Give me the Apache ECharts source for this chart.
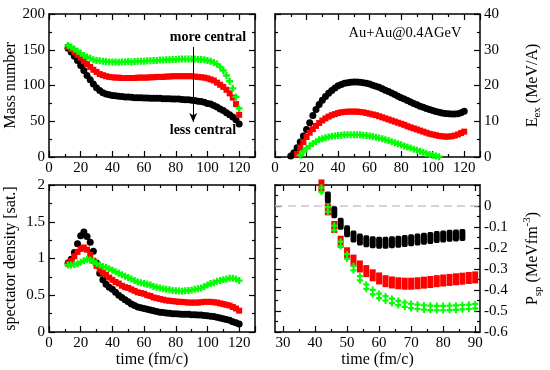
<!DOCTYPE html>
<html>
<head>
<meta charset="utf-8">
<script src="https://cdn.jsdelivr.net/npm/echarts@6/dist/echarts.min.js"></script>
<style>html,body{margin:0;padding:0;background:#fff}#c{width:550px;height:370px}</style>
</head>
<body>
<div id="c"></div>
<script>
// time grids (fm/c)
const t1 = [12,14,16,18,20,22,24,26,28,30,32,34,36,38,40,42,44,46,48,50,52,54,56,58,60,62,64,66,68,70,72,74,76,78,80,82,84,86,88,90,92,94,96,98,100,102,104,106,108,110,112,114,116,118,120];
const tExB = [10,12,14,16,18,20,22,24,26,28,30,32,34,36,38,40,42,44,46,48,50,52,54,56,58,60,62,64,66,68,70,72,74,76,78,80,82,84,86,88,90,92,94,96,98,100,102,104,106,108,110,112,114,116,118,120];
const tExR = [14,16,18,20,22,24,26,28,30,32,34,36,38,40,42,44,46,48,50,52,54,56,58,60,62,64,66,68,70,72,74,76,78,80,82,84,86,88,90,92,94,96,98,100,102,104,106,108,110,112,114,116,118,120];
const tExG = [16,18,20,22,24,26,28,30,32,34,36,38,40,42,44,46,48,50,52,54,56,58,60,62,64,66,68,70,72,74,76,78,80,82,84,86,88,90,92,94,96,98,100,102,104];
const tP = [42,44,46,48,50,52,54,56,58,60,62,64,66,68,70,72,74,76,78,80,82,84,86,88,90];
const tPB = [44,46,48,50,52,54,56,58,60,62,64,66,68,70,72,74,76,78,80,82,84,86];

// Mass number
const massBlack = [152,147,141,135,128,121,114,108,102,97,93,90,88,87,86,85.5,85,84.5,84,84,83.5,83,83,83,82.5,82.5,82,82,82,82,81.5,81.5,81.5,81,81,81,80.5,80,80,79.5,79,78,77.5,76.5,75,74,72,70,67,65,62,59,56,52,46];
const massRed = [154,151,147,143,139,134,130,126,122,119,116,114.5,113,112,111.5,111,111,110.5,110.5,110.5,110.5,110.5,111,111,111,111,111.5,111.5,112,112,112,112.5,112.5,113,113,113,113,113,113,113,112.5,112,111.5,111,110,108.5,107,104,101,98,94,89,83,74,59];
const massGreen = [156,154,151,148,145,142,140,138,136,135,134.5,134,133.5,133,133,133,132.5,133,133,133.5,133,133.5,134,134,134,134.5,134.5,135,135,135.5,135.5,136,136,136.5,136.5,137,137,137,137,137,137,136.5,136.5,136,135,134,132,130,126,121,114,106,96,84,68];

// Excitation energy (MeV/A)
const exBlack = [0.3,1.2,2.6,4.2,5.9,7.7,9.6,11.6,13.3,14.7,15.9,16.9,17.8,18.6,19.3,19.9,20.3,20.6,20.8,20.9,21,21,20.9,20.8,20.6,20.4,20.1,19.8,19.5,19.1,18.7,18.3,17.9,17.5,17,16.6,16.2,15.8,15.4,15,14.6,14.2,13.9,13.6,13.3,13,12.7,12.5,12.3,12.2,12.1,12,12,12.1,12.4,12.8];
const exRed = [0.8,2.6,4.2,5.6,6.8,7.8,8.7,9.5,10.2,10.8,11.3,11.7,12,12.3,12.5,12.6,12.7,12.7,12.7,12.7,12.6,12.5,12.3,12.1,11.9,11.7,11.4,11.1,10.8,10.5,10.2,9.9,9.6,9.3,9,8.6,8.3,8,7.7,7.4,7.1,6.8,6.5,6.3,6.1,5.9,5.8,5.7,5.7,5.8,6,6.3,6.7,7.1];
const exGreen = [0.5,1.5,2.4,3.1,3.8,4.3,4.8,5.1,5.4,5.6,5.8,5.9,6,6.1,6.2,6.2,6.2,6.2,6.2,6.2,6.1,6,5.9,5.7,5.5,5.3,5.1,4.8,4.6,4.3,4,3.7,3.4,3.1,2.8,2.5,2.2,1.9,1.6,1.3,1,0.7,0.5,0.3,0.1];

// Spectator density [sat.]
const densBlack = [0.94,0.99,1.08,1.2,1.31,1.36,1.3,1.22,1.1,0.94,0.8,0.71,0.65,0.61,0.58,0.54,0.5,0.47,0.44,0.41,0.38,0.36,0.34,0.33,0.32,0.31,0.3,0.29,0.28,0.27,0.265,0.26,0.255,0.25,0.25,0.245,0.24,0.24,0.24,0.235,0.235,0.23,0.23,0.225,0.22,0.215,0.21,0.2,0.19,0.18,0.17,0.16,0.14,0.125,0.11];
const densRed = [0.93,0.97,1.03,1.09,1.13,1.15,1.12,1.05,0.97,0.9,0.85,0.81,0.78,0.74,0.71,0.68,0.66,0.63,0.61,0.6,0.58,0.56,0.54,0.53,0.52,0.5,0.49,0.47,0.46,0.45,0.44,0.43,0.425,0.42,0.415,0.41,0.41,0.405,0.4,0.4,0.4,0.4,0.405,0.41,0.41,0.41,0.405,0.4,0.39,0.38,0.37,0.36,0.34,0.32,0.29];
const densGreen = [0.91,0.91,0.92,0.93,0.95,0.97,0.99,0.98,0.96,0.93,0.91,0.89,0.88,0.86,0.84,0.82,0.8,0.78,0.76,0.74,0.72,0.7,0.68,0.67,0.66,0.65,0.64,0.62,0.61,0.6,0.59,0.58,0.575,0.565,0.56,0.56,0.555,0.56,0.565,0.57,0.58,0.59,0.6,0.62,0.64,0.66,0.67,0.69,0.7,0.71,0.72,0.73,0.73,0.72,0.7];

// Spectator pressure (MeV fm^-3)
const presBlack = [0.04,-0.03,-0.085,-0.12,-0.145,-0.16,-0.168,-0.173,-0.175,-0.175,-0.173,-0.17,-0.167,-0.163,-0.16,-0.156,-0.152,-0.148,-0.145,-0.142,-0.14,-0.138];
const presRed = [0.098,-0.016,-0.1,-0.17,-0.225,-0.26,-0.288,-0.31,-0.33,-0.345,-0.358,-0.364,-0.368,-0.37,-0.37,-0.368,-0.365,-0.362,-0.358,-0.355,-0.352,-0.349,-0.346,-0.343,-0.34];
const presGreen = [0.077,-0.016,-0.104,-0.18,-0.24,-0.296,-0.344,-0.384,-0.41,-0.428,-0.44,-0.452,-0.462,-0.47,-0.476,-0.48,-0.483,-0.485,-0.486,-0.486,-0.485,-0.484,-0.482,-0.48,-0.477];

// tick labels
const pXLabels = [30,40,50,60,70,80,90];
const pXMinor = [35,45,55,65,75,85];

const F = 'Liberation Serif, Times New Roman, serif';
const BLACK = '#000000', RED = '#ff0000', GREEN = '#00ff00';
const PLUS = 'path://M2,0H4V2H6V4H4V6H2V4H0V2H2Z';
const DPLUS = 'path://M2,0H4V2H6V4H4V6H6V8H4V10H2V8H0V6H2V4H0V2H2Z';

function zip(xs, ys){ return xs.map((x,i)=>[x, ys[i]]); }

const lineSt = {color:'#000', width:1.5};
const tickSt = {color:'#000', width:1.2};
const lbl = {fontFamily:F, fontSize:15, color:'#000', margin:4};
const nameSt = {fontFamily:F, fontSize:16, color:'#000'};

function axis(o){
  const a = {
    type:'value', gridIndex:o.g, min:o.min, max:o.max, position:o.pos,
    axisLine:{show:true, onZero:false, lineStyle:lineSt},
    axisTick:{show:true, inside:true, length:6, lineStyle:tickSt},
    minorTick:{show:o.minor!==false, splitNumber:2, length:3, lineStyle:tickSt},
    splitLine:{show:false}, minorSplitLine:{show:false},
    axisLabel: o.label ? Object.assign({}, lbl, {showMaxLabel: o.showMax !== false}) : {show:false}
  };
  if (o.interval !== undefined) a.interval = o.interval;
  if (o.tickValues) { a.axisTick.customValues = o.tickValues; }
  if (o.labelValues && o.label) { a.axisLabel.customValues = o.labelValues; }
  if (o.tickLen) a.axisTick.length = o.tickLen;
  if (o.noLine) a.axisLine.show = false;
  if (o.name) {
    a.name = o.name; a.nameLocation = 'middle'; a.nameGap = o.nameGap;
    a.nameTextStyle = Object.assign({}, nameSt, o.rich ? {rich:o.rich} : {});
  }
  return a;
}

const xAxes = [
  axis({g:0,min:0,max:130,interval:20,pos:'bottom',label:true,showMax:false}),
  axis({g:0,min:0,max:130,interval:20,pos:'top'}),
  axis({g:1,min:0,max:130,interval:20,pos:'bottom',label:true,showMax:false}),
  axis({g:1,min:0,max:130,interval:20,pos:'top'}),
  axis({g:2,min:0,max:130,interval:20,pos:'bottom',label:true,showMax:false,name:'time (fm/c)',nameGap:18}),
  axis({g:2,min:0,max:130,interval:20,pos:'top'}),
  axis({g:3,min:27.5,max:91.5,interval:0.5,pos:'bottom',label:true,minor:false,tickValues:pXLabels,labelValues:pXLabels,name:'time (fm/c)',nameGap:18}),
  axis({g:3,min:27.5,max:91.5,interval:0.5,pos:'top',minor:false,tickValues:pXLabels}),
  axis({g:3,min:27.5,max:91.5,interval:0.5,pos:'bottom',minor:false,tickValues:pXMinor,tickLen:3,noLine:true}),
  axis({g:3,min:27.5,max:91.5,interval:0.5,pos:'top',minor:false,tickValues:pXMinor,tickLen:3,noLine:true})
];

const richEx = {
  m:{fontFamily:F, fontSize:16, color:'#000', lineHeight:20},
  s:{fontFamily:F, fontSize:11, color:'#000', verticalAlign:'bottom', lineHeight:20}
};
const richP = {
  m:{fontFamily:F, fontSize:16, color:'#000', lineHeight:22},
  s:{fontFamily:F, fontSize:11, color:'#000', verticalAlign:'bottom', lineHeight:22},
  p:{fontFamily:F, fontSize:11, color:'#000', verticalAlign:'top', lineHeight:22}
};

const yAxes = [
  axis({g:0,min:0,max:200,interval:50,pos:'left',label:true,name:'Mass number',nameGap:30}),
  axis({g:0,min:0,max:200,interval:50,pos:'right'}),
  axis({g:1,min:0,max:40,interval:10,pos:'right',label:true,name:'{m|E}{s|ex}{m| (MeV/A)}',nameGap:43,rich:richEx}),
  axis({g:1,min:0,max:40,interval:10,pos:'left'}),
  axis({g:2,min:0,max:2,interval:0.5,pos:'left',label:true,name:'spectator density [sat.]',nameGap:30}),
  axis({g:2,min:0,max:2,interval:0.5,pos:'right'}),
  axis({g:3,min:-0.6,max:0.1,interval:0.1,pos:'right',label:true,showMax:false,name:'{m|P}{s|sp}{m| (MeVfm}{p|-3}{m|)}',nameGap:42,rich:richP}),
  axis({g:3,min:-0.6,max:0.1,interval:0.1,pos:'left'})
];

function sc(name, xi, yi, data, color, symbol, size, extra){
  return Object.assign({
    type:'scatter', name, xAxisIndex:xi, yAxisIndex:yi, data,
    symbol, symbolSize:size, itemStyle:{color, opacity:1}, silent:true, z:3
  }, extra||{});
}

const series = [
  sc('mB',0,0,zip(t1,massBlack),BLACK,'circle',7,{
    markLine:{silent:true, symbol:['none','arrow'], symbolSize:[6,9], label:{show:false},
      lineStyle:{color:'#000', width:1, type:'solid'},
      data:[[{coord:[91,154]},{coord:[91,49]}]]}
  }),
  sc('mR',0,0,zip(t1,massRed),RED,'rect',6),
  sc('mG',0,0,zip(t1,massGreen),GREEN,PLUS,7),

  sc('eB',2,2,zip(tExB,exBlack),BLACK,'circle',7),
  sc('eR',2,2,zip(tExR,exRed),RED,'rect',6),
  sc('eG',2,2,zip(tExG,exGreen),GREEN,PLUS,7),

  sc('dB',4,4,zip(t1,densBlack),BLACK,'circle',7),
  sc('dR',4,4,zip(t1,densRed),RED,'rect',6),
  sc('dG',4,4,zip(t1,densGreen),GREEN,PLUS,7),

  sc('pB',6,6,zip(tPB,presBlack),BLACK,'roundRect',[6,12],{
    markLine:{silent:true, symbol:'none', label:{show:false},
      lineStyle:{color:'#c8c8c8', width:1.5, type:[8,5]}, z:1,
      data:[{yAxis:0}]}
  }),
  sc('pR',6,6,zip(tP,presRed),RED,'rect',[6,12]),
  sc('pG',6,6,zip(tP,presGreen),GREEN,DPLUS,[6,11])
];

const chart = echarts.init(document.getElementById('c'), null, {renderer:'canvas'});
chart.setOption({
  animation:false,
  backgroundColor:'#fff',
  grid:[
    {left:49, top:14, width:206, height:143},
    {left:275, top:14, width:205, height:143},
    {left:49, top:185, width:206, height:147},
    {left:275, top:185, width:205, height:147}
  ],
  xAxis:xAxes,
  yAxis:yAxes,
  series,
  graphic:[
    {type:'text', z:0, style:{x:208, y:37, text:'more central', fill:'#000', font:'bold 14px '+F, textAlign:'center', textVerticalAlign:'middle'}},
    {type:'text', z:0, style:{x:203, y:130, text:'less central', fill:'#000', font:'bold 14px '+F, textAlign:'center', textVerticalAlign:'middle'}},
    {type:'text', z:0, style:{x:405, y:33, text:'Au+Au@0.4AGeV', fill:'#000', font:'14.5px '+F, textAlign:'center', textVerticalAlign:'middle'}}
  ]
});
</script>
</body>
</html>
